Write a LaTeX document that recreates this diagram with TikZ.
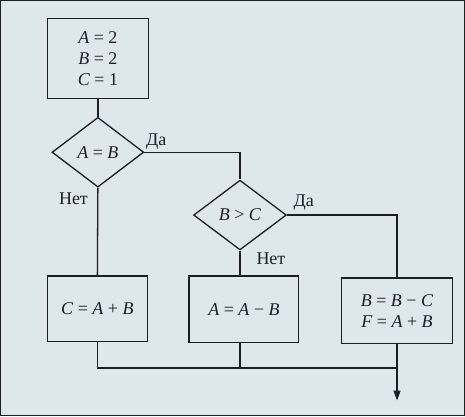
\documentclass[tikz,border=0pt]{standalone}
\usepackage{fontspec}
\setmainfont{Liberation Serif}
\newfontfamily\tms{Liberation Serif}
\usetikzlibrary{shapes.geometric,arrows.meta}
\definecolor{bg}{RGB}{222,231,235}
\definecolor{ink}{RGB}{30,30,34}
\begin{document}
\begin{tikzpicture}[x=1pt,y=-1pt,
  every path/.style={line width=1.3pt, draw=ink},
  txt/.style={font=\tms\fontsize{18}{21}\selectfont, text=ink, align=center},
  proc/.style={txt, rectangle, draw=ink, line width=1.3pt, inner sep=0pt},
  dec/.style={txt, diamond, draw=ink, line width=1.3pt, inner sep=0pt, minimum width=92pt, minimum height=70pt},
  lbl/.style={txt, inner sep=0pt}]
\fill[bg, draw=none] (0,0) rectangle (465,416);
\useasboundingbox (0,0) rectangle (465,416);

\node[proc, minimum width=101pt, minimum height=80pt] (init) at (97.5,58)
  {\textit{A} = 2\\ \textit{B} = 2\\ \textit{C} = 1};
\node[dec] (d1) at (97.5,152) {\textit{A} = \textit{B}};
\node[dec, minimum width=93pt] (d2) at (240,215) {\textit{B} > \textit{C}};
\node[proc, minimum width=100pt, minimum height=66pt] (bc) at (97,309) {\textit{C} = \textit{A} + \textit{B}};
\node[proc, minimum width=110pt, minimum height=67pt] (ba) at (244,309.5) {\textit{A} = \textit{A} − \textit{B}};
\node[proc, minimum width=111pt, minimum height=66pt] (br) at (397.5,311)
  {\textit{B} = \textit{B} − \textit{C}\\ \textit{F} = \textit{A} + \textit{B}};

\node[lbl] (y1) at (156,141) {Да};
\node[lbl] (n1) at (73,199) {Нет};
\node[lbl] (y2) at (304,202) {Да};
\node[lbl] (n2) at (271,259) {Нет};

\coordinate (join) at (397.5,368.5);
\coordinate (out) at (397.5,401);

\draw (init) -- (d1);
\draw (d1.east) -| (d2.north);
\draw (d1.south) -- (bc.north);
\draw (d2.south) -- (d2.south |- ba.north);
\draw (d2.east) -| (br.north);
\draw (bc.south) |- (join);
\draw (d2.south |- ba.south) -- (d2.south |- join);
\draw[-{Triangle[length=10pt,width=7pt]}] (br.south) -- (out);
\end{tikzpicture}
\end{document}
